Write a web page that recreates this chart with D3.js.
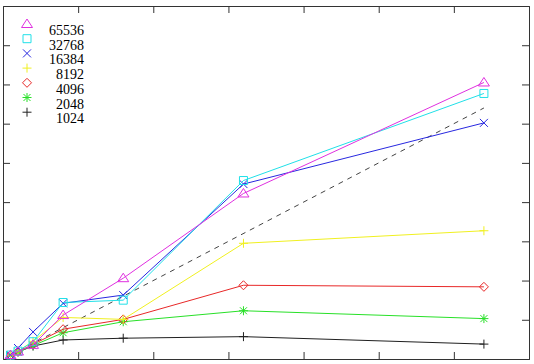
<!DOCTYPE html>
<html>
<head>
<meta charset="utf-8">
<script src="https://cdn.jsdelivr.net/npm/d3@7"></script>
<style>
  body { margin: 0; background: #fff; }
  svg { display: block; }
</style>
</head>
<body>
<script>
// processor counts and speedups per problem size
const procs = [1, 2, 4, 8, 16, 32, 64];
const s65536 = [1, 1.9, 3.6, 11.2, 20.6, 42.2, 70.5];
const s32768 = [1, 2.0, 4.4, 14.4, 15.0, 45.5, 67.7];
const s16384 = [1, 2.8, 6.9, 14.2, 16.3, 44.6, 60.2];
const s8192 = [1, 2.0, 4.5, 10.6, 10.1, 29.5, 32.7];
const s4096 = [1, 1.9, 3.7, 7.6, 10.1, 18.8, 18.4];
const s2048 = [1, 1.8, 3.4, 6.7, 9.5, 12.3, 10.3];
const s1024 = [1, 1.8, 3.3, 4.85, 5.3, 5.7, 3.8];
const ideal = [1, 64];
const xTicks = [10, 20, 30, 40, 50, 60];
const yTicks = [10, 20, 30, 40, 50, 60, 70, 80];

const series = [
  {name: "65536", vals: s65536, color: "#e030e0", mark: "tri"},
  {name: "32768", vals: s32768, color: "#20e0e8", mark: "sq"},
  {name: "16384", vals: s16384, color: "#2828e0", mark: "x"},
  {name: "8192",  vals: s8192,  color: "#f0f020", mark: "plus"},
  {name: "4096",  vals: s4096,  color: "#e82828", mark: "dia"},
  {name: "2048",  vals: s2048,  color: "#28e028", mark: "star"},
  {name: "1024",  vals: s1024,  color: "#202020", mark: "plus"}
];

function marker(type) {
  switch (type) {
    case "tri":  return "M-5.5,3.5L5.5,3.5L0,-5Z";
    case "sq":   return "M-4,-4H4V4H-4Z";
    case "x":    return "M-4,-4L4,4M-4,4L4,-4";
    case "plus": return "M-4.5,0H4.5M0,-4.5V4.5";
    case "dia":  return "M0,-4.5L4.5,0L0,4.5L-4.5,0Z";
    case "star": return "M-4.5,0H4.5M0,-4.5V4.5M-3.5,-3.5L3.5,3.5M-3.5,3.5L3.5,-3.5";
  }
}

const width = 534, height = 364;
const plotLeft = 3, plotRight = 529, plotTop = 6, plotBottom = 359;

const svg = d3.select("body").append("svg")
  .attr("width", width)
  .attr("height", height);

const x = d3.scaleLinear().domain([0, 70]).range([plotLeft, plotRight]);
const y = d3.scaleLinear().domain([0, 90]).range([plotBottom, plotTop]);

// frame with inward ticks on all four sides
const tick = 7;
svg.append("g").attr("transform", `translate(0,${plotBottom})`)
  .call(d3.axisBottom(x).tickValues(xTicks).tickSize(-tick).tickFormat(""));
svg.append("g").attr("transform", `translate(0,${plotTop})`)
  .call(d3.axisTop(x).tickValues(xTicks).tickSize(-tick).tickFormat(""));
svg.append("g").attr("transform", `translate(${plotLeft},0)`)
  .call(d3.axisLeft(y).tickValues(yTicks).tickSize(-tick).tickFormat(""));
svg.append("g").attr("transform", `translate(${plotRight},0)`)
  .call(d3.axisRight(y).tickValues(yTicks).tickSize(-tick).tickFormat(""));
svg.selectAll(".domain").attr("stroke", "#333").attr("stroke-width", 1);
svg.selectAll(".tick line").attr("stroke", "#333");

// ideal speedup, dashed
svg.append("line")
  .attr("x1", x(ideal[0])).attr("y1", y(ideal[0]))
  .attr("x2", x(ideal[1])).attr("y2", y(ideal[1]))
  .attr("stroke", "#444").attr("stroke-dasharray", "5,5");

const line = d3.line().x((d, i) => x(procs[i])).y(d => y(d));

series.slice().reverse().forEach(s => {
  svg.append("path")
    .attr("d", line(s.vals))
    .attr("fill", "none")
    .attr("stroke", s.color)
    .attr("stroke-width", 1);
  svg.selectAll(null)
    .data(s.vals)
    .enter().append("path")
    .attr("transform", (d, i) => `translate(${x(procs[i])},${y(d)})`)
    .attr("d", marker(s.mark))
    .attr("fill", "none")
    .attr("stroke", s.color)
    .attr("stroke-width", 1);
});

// legend
const legend = svg.append("g");
series.forEach((s, i) => {
  const ly = 30 + i * 14.7;
  legend.append("path")
    .attr("transform", `translate(27,${ly - 6})`)
    .attr("d", marker(s.mark))
    .attr("fill", "none")
    .attr("stroke", s.color);
  legend.append("text")
    .attr("x", 84)
    .attr("y", ly + 5)
    .attr("text-anchor", "end")
    .attr("font-family", "Liberation Serif, Times New Roman, serif")
    .attr("font-size", 14)
    .attr("fill", "#000")
    .text(s.name);
});
</script>
</body>
</html>
